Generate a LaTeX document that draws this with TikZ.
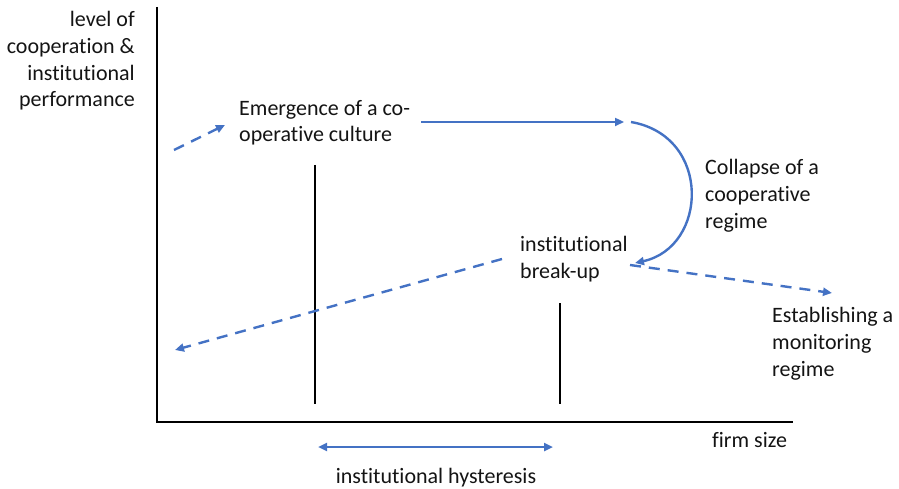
\documentclass[tikz,border=0pt]{standalone}
\usepackage{fontspec}
\setmainfont{Carlito}[Ligatures=NoCommon]
\usetikzlibrary{arrows.meta}
\definecolor{ablue}{RGB}{68,114,196}
\begin{document}
\begin{tikzpicture}[x=1pt,y=-1pt,
  lbl/.style={inner sep=0pt,font=\fontsize{22}{26.8}\selectfont,text=black!92},
  axisline/.style={line width=2.9pt,black},
  marker/.style={line width=2.7pt,black},
  flow/.style={line width=2.4pt,ablue,-{Triangle[length=9pt,width=8pt]}},
  dflow/.style={flow,dash pattern=on 11pt off 8pt},
  dbl/.style={line width=2.4pt,ablue,{Triangle[length=9pt,width=8pt]}-{Triangle[length=9pt,width=8pt]}}]
\useasboundingbox (0,0) rectangle (899,489);
% axes
\coordinate (otop) at (157,7);
\coordinate (o) at (157,422);
\coordinate (xend) at (793,422);
\draw[axisline] (otop) -- (o) -- (xend);
% markers
\coordinate (m1t) at (315,165); \coordinate (m1b) at (315,404);
\coordinate (m2t) at (560,303); \coordinate (m2b) at (560,404);
\draw[marker] (m1t) -- (m1b);
\draw[marker] (m2t) -- (m2b);
% labels (base anchor = baseline of the last line)
\node[lbl,anchor=base east,align=right] (ylab) at (135,107) {level of\\cooperation \&\\institutional\\performance};
\node[lbl,anchor=base west,align=left] (emerg) at (239,142) {Emergence of a co-\\operative culture};
\node[lbl,anchor=base west,align=left] (collapse) at (705,228) {Collapse of a\\cooperative\\regime};
\node[lbl,anchor=base west,align=left] (breakup) at (520,278) {institutional\\break-up};
\node[lbl,anchor=base west,align=left] (monitor) at (772,376) {Establishing a\\monitoring\\regime};
\node[lbl,anchor=base west] (firm) at (712,447) {firm size};
\node[lbl,anchor=base] (hyst) at (436,483) {institutional hysteresis};
% arrows
\coordinate (a1s) at (174,150); \coordinate (a1e) at (225,125);
\draw[dflow] (a1s) -- (a1e);
\coordinate (a2s) at (421,122); \coordinate (a2e) at (624,122);
\draw[flow] (a2s) -- (a2e);
\coordinate (a3s) at (631,122); \coordinate (a3e) at (635,263);
\draw[flow] (a3s) .. controls (712,136) and (708,247) .. (a3e);
\coordinate (a4s) at (502,259); \coordinate (a4e) at (175,350);
\draw[dflow] (a4s) -- (a4e);
\coordinate (a5s) at (630,265); \coordinate (a5e) at (832,293);
\draw[dflow] (a5s) -- (a5e);
\coordinate (h1) at (318,447); \coordinate (h2) at (553,447);
\draw[dbl] (h1) -- (h2);
\end{tikzpicture}
\end{document}
